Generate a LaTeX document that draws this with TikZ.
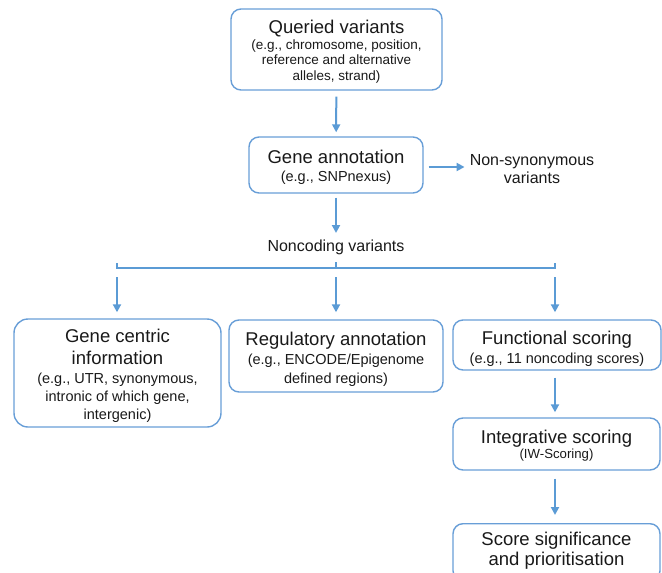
\documentclass[tikz,border=0pt]{standalone}
\usepackage{fontspec}
\setmainfont{Liberation Sans}
\usetikzlibrary{arrows.meta}
\definecolor{flowblue}{RGB}{91,155,213}
\definecolor{boxblue}{RGB}{104,158,215}
\definecolor{txt}{RGB}{25,25,25}
\newcommand{\ttl}{\fontsize{18.5}{21}\selectfont}
\tikzset{
  box/.style={draw=boxblue, line width=1.4pt, rounded corners=10pt, inner sep=0pt},
  flow/.style={draw=flowblue, line width=2pt, -{Triangle[length=8pt,width=8pt]}},
  brk/.style={draw=flowblue, line width=2pt},
  plain/.style={align=center, text=txt, inner sep=0pt}
}
\begin{document}
\begin{tikzpicture}[x=1pt,y=-1pt]
\useasboundingbox (0,0) rectangle (662,573);
\clip (0,0) rectangle (662,573);
% boxes
\node[box, minimum width=211pt, minimum height=81pt] (q) at (336.5,49.5) {};
\node[box, minimum width=174pt, minimum height=56pt] (ga) at (336,165) {};
\node[box, rounded corners=14pt, minimum width=207pt, minimum height=108pt] (gc) at (117.5,373) {};
\node[box, minimum width=214pt, minimum height=72pt] (ra) at (336,356) {};
\node[box, minimum width=208pt, minimum height=50pt] (fs) at (557,345) {};
\node[box, minimum width=207pt, minimum height=52pt] (is) at (556.5,444) {};
\node[box, minimum width=207pt, minimum height=57pt, anchor=north] (ss) at (556.5,523) {};
% texts
\node[plain, font=\fontsize{13.5}{15.8}\selectfont] (qt) at (336.5,51.7)
  {\ttl Queried variants\\(e.g., chromosome, position,\\reference and alternative\\alleles, strand)};
\node[plain, font=\fontsize{14.5}{17.7}\selectfont] (gat) at (336,167.6)
  {\ttl Gene annotation\\(e.g., SNPnexus)};
\node[plain, font=\fontsize{16}{17.6}\selectfont] (ns) at (532,168.8) {Non-synonymous\\variants};
\node[plain, font=\fontsize{16}{18}\selectfont] (nc) at (336,247.7) {Noncoding variants};
\node[plain, font=\fontsize{14.5}{18.3}\selectfont] (gct) at (117.5,375.6)
  {\ttl Gene centric\\[3.7pt]\ttl information\\[0.7pt](e.g., UTR, synonymous,\\intronic of which gene,\\intergenic)};
\node[plain, font=\fontsize{14.5}{18.8}\selectfont] (rat) at (336,359.3)
  {\ttl Regulatory annotation\\(e.g., ENCODE/Epigenome\\defined regions)};
\node[plain, font=\fontsize{14.5}{18.3}\selectfont] (fst) at (557,348.9)
  {\ttl Functional scoring\\(e.g., 11 noncoding scores)};
\node[plain, font=\fontsize{13.2}{15.7}\selectfont] (ist) at (556.5,445.8)
  {\ttl Integrative scoring\\(IW-Scoring)};
\node[plain, font=\fontsize{18.5}{20}\selectfont] (sst) at (556.5,550.9)
  {Score significance\\and prioritisation};
% bracket
\coordinate (nce) at (336,233);
\coordinate (bl) at (117,268);
\coordinate (br) at (555,268);
\coordinate (bc) at (336,268);
\coordinate (bt) at (336,262);
\coordinate (a1) at (117,277);
\coordinate (a2) at (336,277);
\coordinate (a3) at (555,277);
\draw[brk] ([yshift=5pt]bl) -- (bl) -- (br) -- ([yshift=5pt]br);
\draw[brk] (bt) -- (bc);
% arrows
\draw[flow, shorten <=6pt, shorten >=4pt] (q) -- (ga);
\draw[flow, shorten <=5pt, shorten >=5pt] (ga.east |- 0,167) -- (ns.west |- 0,167);
\draw[flow, shorten <=4pt] (ga) -- (nce);
\draw[flow, shorten >=6pt] (a1) -- (a1 |- gc.north);
\draw[flow, shorten >=7pt] (a2) -- (ra);
\draw[flow, shorten >=7pt] (a3) -- (a3 |- fs.north);
\draw[flow, shorten <=7pt, shorten >=5pt] (a3 |- fs.south) -- (a3 |- is.north);
\draw[flow, shorten <=8pt, shorten >=8pt] (a3 |- is.south) -- (a3 |- ss.north);
\end{tikzpicture}
\end{document}
